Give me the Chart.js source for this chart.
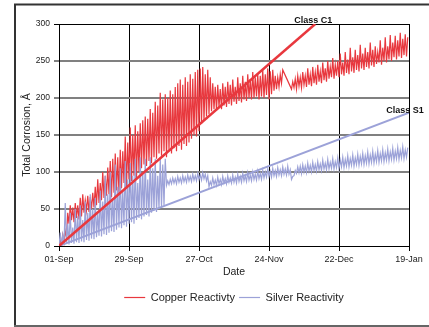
<!DOCTYPE html>
<html>
<head>
<meta charset="utf-8">
<script src="https://cdn.jsdelivr.net/npm/chart.js@4.4.1/dist/chart.umd.min.js"></script>
<style>
    html, body { margin: 0; padding: 0; background: #fff; overflow: hidden; }
    #chart { display: block; }
</style>
</head>
<body>
<canvas id="chart" width="429" height="327"></canvas>
<script>
    // ── Data: one low/high pair per day since 01-Sep ──
    const dateLabels = ['01-Sep', '29-Sep', '27-Oct', '24-Nov', '22-Dec', '19-Jan'];

    const copperLow = [
        0, 3, 5, 12, 30, 35, 32, 38, 36, 40,
        45, 48, 46, 50, 52, 55, 58, 62, 65, 68,
        70, 66, 72, 75, 70, 78, 85, 80, 90, 88,
        95, 92, 100, 105, 110, 108, 115, 112, 120, 118,
        125, 122, 128, 120, 130, 125, 132, 128, 135, 130,
        138, 135, 140, 145, 150, 148, 155, 165, 170, 175,
        178, 182, 185, 183, 188, 185, 190, 188, 192, 190,
        195, 192, 196, 194, 198, 196, 200, 198, 200, 202,
        198, 202, 200, 204, 198, 205, 210, 212, 215, 220,
        null, null, null, 212, 214, 212, 216, 214, 218, 215,
        218, 216, 220, 218, 222, 220, 224, 222, 226, 228,
        226, 230, 228, 232, 230, 234, 232, 236, 234, 238,
        236, 240, 238, 242, 240, 244, 242, 246, 248, 245,
        250, 248, 252, 250, 255, 252, 256, 254, 258, 256
    ];
    const copperHigh = [
        8, 15, 20, 45, 55, 52, 58, 55, 65, 70,
        62, 68, 66, 72, 80, 90, 85, 100, 95, 106,
        115, 118, 125, 120, 130, 128, 148, 140, 160, 150,
        163, 155, 166, 170, 175, 172, 185, 180, 195, 190,
        207, 198, 205, 200, 210, 205, 215, 220, 225, 218,
        228, 222, 232, 226, 235, 238, 240, 242, 232, 238,
        228, 220, 215, 218, 212, 220, 215, 222, 218, 225,
        215, 228, 220, 230, 222, 232, 225, 235, 228, 232,
        230, 238, 232, 240, 236, 238, 230, 228, 232, 238,
        null, null, null, 222, 226, 230, 228, 235, 230, 240,
        232, 242, 235, 245, 236, 248, 240, 250, 242, 254,
        245, 250, 260, 248, 262, 252, 268, 255, 265, 258,
        272, 260, 268, 262, 275, 265, 270, 262, 278, 268,
        282, 270, 285, 275, 284, 278, 288, 280, 286, 282
    ];

    const silverLow = [
        0, 0, 2, 3, 2, 4, 3, 5, 4, 6,
        5, 8, 7, 10, 9, 12, 14, 13, 16, 15,
        18, 20, 19, 22, 25, 24, 28, 26, 30, 32,
        30, 35, 38, 36, 40, 42, 40, 45, 48, 46,
        50, 52, 55, 82, 83, 84, 85, 84, 86, 85,
        87, 86, 88, 87, 89, 88, 90, 89, 91, 88,
        80, 82, 83, 82, 84, 83, 85, 84, 86, 85,
        86, 85, 87, 86, 88, 87, 89, 88, 90, 89,
        91, 90, 92, 93, 94, 93, 95, 94, 96, 95,
        97, 96, 97, 90, 95, 98, 99, 98, 100, 99,
        101, 100, 102, 101, 103, 102, 104, 103, 104, 105,
        104, 106, 105, 107, 106, 108, 107, 109, 108, 110,
        109, 111, 110, 112, 111, 113, 112, 114, 113, 115,
        114, 116, 115, 117, 116, 118, 117, 119, 118, 120
    ];
    const silverHigh = [
        18, 15, 58, 30, 45, 25, 50, 40, 55, 35,
        60, 45, 70, 50, 65, 45, 75, 60, 95, 70,
        100, 65, 110, 80, 105, 75, 115, 90, 112, 95,
        118, 85, 120, 100, 118, 90, 120, 105, 118, 95,
        120, 110, 118, 88, 90, 92, 91, 94, 92, 95,
        93, 96, 94, 97, 95, 98, 96, 99, 97, 95,
        87, 92, 89, 93, 90, 94, 91, 95, 92, 96,
        93, 97, 94, 98, 95, 99, 96, 100, 97, 101,
        98, 102, 100, 104, 101, 105, 102, 106, 103, 107,
        104, 108, 103, 94, 102, 107, 108, 110, 108, 112,
        109, 113, 110, 114, 111, 116, 112, 117, 113, 118,
        114, 119, 116, 120, 117, 122, 118, 123, 119, 124,
        121, 125, 122, 127, 123, 128, 124, 129, 125, 130,
        126, 131, 127, 132, 128, 133, 129, 134, 130, 133
    ];

    // Class reference lines (day, value)
    const c1Days = [0, 102.5];
    const c1Values = [0, 300];
    const s1Days = [0, 140];
    const s1Values = [0, 180];

    const COPPER = '#e8383e';
    const SILVER = '#9ca2d8';
    const FONT = "'Liberation Sans', Arial, sans-serif";

    // ── Helper: one reading low, the next half day high ──
    function zigzag(low, high) {
        const pts = [];
        low.forEach((lo, d) => {
            if (lo === null) return;
            pts.push({ x: d, y: lo });
            pts.push({ x: d + 0.5, y: high[d] });
        });
        return pts;
    }

    function pairs(xs, ys) {
        return xs.map((x, i) => ({ x, y: ys[i] }));
    }

    // ── Plugin: page frame (left, top, bottom) behind the chart ──
    const frame = {
        id: 'frame',
        beforeDraw(chart) {
            const ctx = chart.ctx;
            ctx.save();
            ctx.lineWidth = 2;
            ctx.strokeStyle = '#333';
            ctx.beginPath();
            ctx.moveTo(15, 326);
            ctx.lineTo(15, 4.5);
            ctx.lineTo(429, 4.5);
            ctx.stroke();
            ctx.strokeStyle = '#666';
            ctx.beginPath();
            ctx.moveTo(14, 326);
            ctx.lineTo(429, 326);
            ctx.stroke();
            ctx.restore();
        }
    };

    // ── Plugin: centre the legend under the plot area, not the canvas ──
    const legendShift = {
        id: 'legendShift',
        afterLayout(chart) {
            const lg = chart.legend;
            const area = chart.chartArea;
            const dx = (area.left + area.right) / 2 - (lg.left + lg.right) / 2;
            lg.left += dx;
            lg.right += dx;
        }
    };

    // ── Plugin: "Class C1" / "Class S1" tags at the end of the class lines ──
    const classTags = {
        id: 'classTags',
        afterDatasetsDraw(chart) {
            const ctx = chart.ctx;
            ctx.save();
            ctx.font = 'bold 9px ' + FONT;
            ctx.fillStyle = '#111';
            ctx.textAlign = 'center';
            chart.data.datasets.forEach((ds, i) => {
                if (!ds.tag) return;
                const pts = chart.getDatasetMeta(i).data;
                const p = pts[pts.length - 1];
                ctx.fillText(ds.tag, p.x + ds.tagDx, p.y + ds.tagDy);
            });
            ctx.restore();
        }
    };

    Chart.defaults.font.family = FONT;
    Chart.defaults.color = '#222';

    new Chart(document.getElementById('chart'), {
        type: 'line',
        data: {
            datasets: [
                {
                    label: 'Copper Reactivty',
                    data: zigzag(copperLow, copperHigh),
                    borderColor: COPPER,
                    backgroundColor: COPPER,
                    borderWidth: 1.2,
                    pointStyle: 'line',
                    order: 3
                },
                {
                    label: 'Silver Reactivity',
                    data: zigzag(silverLow, silverHigh),
                    borderColor: SILVER,
                    backgroundColor: SILVER,
                    borderWidth: 1.2,
                    pointStyle: 'line',
                    order: 2
                },
                {
                    label: 'Class C1',
                    data: pairs(c1Days, c1Values),
                    borderColor: COPPER,
                    borderWidth: 2.5,
                    order: 0,
                    tag: 'Class C1', tagDx: -2, tagDy: -3
                },
                {
                    label: 'Class S1',
                    data: pairs(s1Days, s1Values),
                    borderColor: SILVER,
                    borderWidth: 2,
                    order: 1,
                    tag: 'Class S1', tagDx: -4, tagDy: -2
                }
            ]
        },
        options: {
            responsive: false,
            animation: false,
            layout: { padding: { left: 17, top: 24, right: 20, bottom: 14 } },
            elements: { point: { radius: 0 }, line: { tension: 0 } },
            plugins: {
                tooltip: { enabled: false },
                legend: {
                    position: 'bottom',
                    labels: {
                        usePointStyle: true,
                        pointStyleWidth: 21,
                        font: { size: 11 },
                        color: '#222',
                        padding: 4,
                        filter: (item) => item.datasetIndex < 2,
                        sort: (a, b) => a.datasetIndex - b.datasetIndex
                    }
                }
            },
            scales: {
                x: {
                    type: 'linear',
                    min: 0,
                    max: 140,
                    afterFit: (s) => { s.height = 42; },
                    ticks: {
                        stepSize: 28,
                        font: { size: 9 },
                        padding: 3,
                        maxRotation: 0,
                        callback: (v) => dateLabels[v / 28]
                    },
                    grid: { color: '#000', lineWidth: 1, tickLength: 5 },
                    border: { color: '#000', width: 1 },
                    title: { display: true, text: 'Date', font: { size: 10.5 }, padding: { top: 2, bottom: 10 } }
                },
                y: {
                    min: 0,
                    max: 300,
                    afterFit: (s) => { s.width = 42; },
                    ticks: { stepSize: 50, font: { size: 8.5 }, padding: 4 },
                    grid: {
                        color: (c) => (c.tick.value === 0 || c.tick.value === 300) ? '#000' : '#808080',
                        lineWidth: (c) => (c.tick.value === 0 || c.tick.value === 300) ? 1 : 2,
                        tickLength: 5
                    },
                    border: { color: '#000', width: 1 },
                    title: { display: true, text: 'Total Corrosion, Å', font: { size: 10.5 }, padding: { top: 4, bottom: 0 } }
                }
            }
        },
        plugins: [frame, legendShift, classTags]
    });
</script>
</body>
</html>
